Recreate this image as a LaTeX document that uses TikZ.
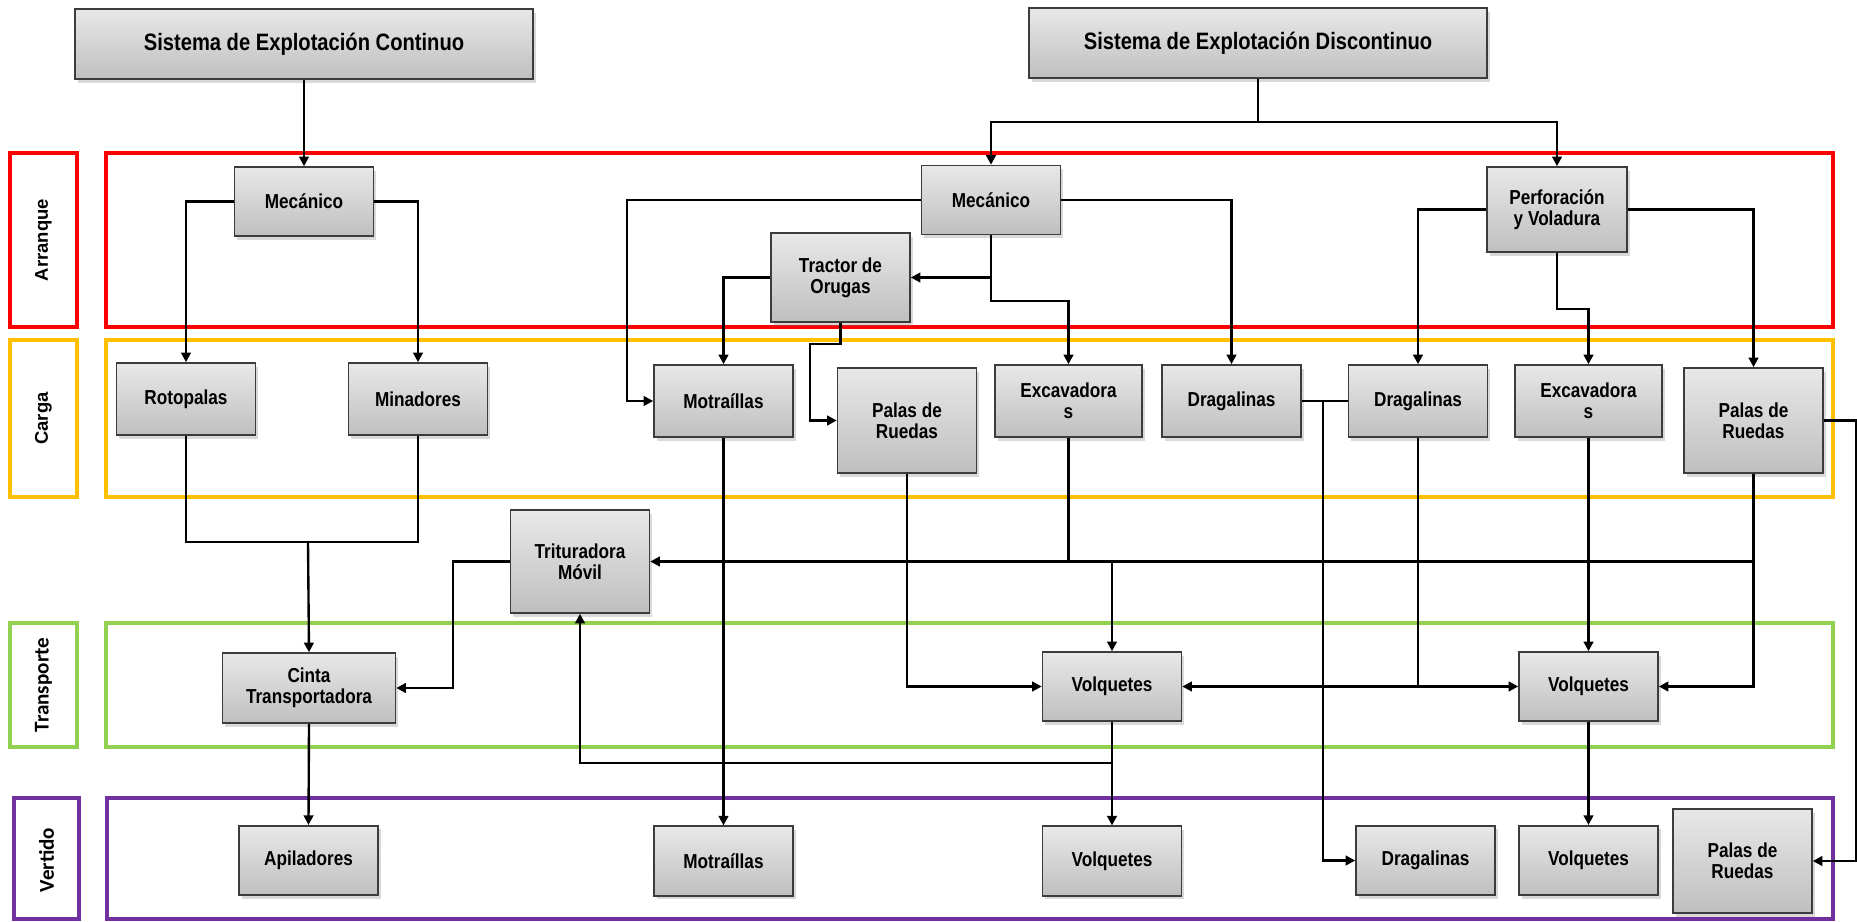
\documentclass[tikz,border=0pt]{standalone}
\usepackage{fontspec}
\usepackage{tikz}
\newfontfamily\boxfont{Liberation Sans}[FakeStretch=0.85]
\newfontfamily\carrilA{Liberation Sans}
\newfontfamily\carrilB{Carlito}
\definecolor{Arrq}{RGB}{255,0,0}
\definecolor{Crga}{RGB}{255,192,0}
\definecolor{Trsp}{RGB}{146,208,80}
\definecolor{Vrtd}{RGB}{112,48,160}
\definecolor{Brde}{RGB}{60,60,60}
\usetikzlibrary{shadows,arrows.meta,calc}
\tikzset{
  caja/.style={draw=Brde, line width=0.9pt, top color=gray!18, bottom color=gray!50,
               drop shadow={opacity=0.3, shadow xshift=1.5pt, shadow yshift=-2pt},
               align=center, inner sep=0pt, minimum width=2.78cm, minimum height=1.44cm,
               font=\boxfont\bfseries\fontsize{11.5}{11.8}\selectfont},
  titulo/.style={caja, minimum width=9.16cm, minimum height=1.4cm,
               font=\boxfont\bfseries\fontsize{13.5}{15}\selectfont},
  carril/.style={line width=2.2pt},
  flecha/.style={line width=1.35pt, -{Triangle[length=5.5pt,width=5.5pt]}},
  linea/.style={line width=1.35pt}
}

\begin{document}
\begin{tikzpicture}[x=0.02cm, y=-0.02cm]
    \useasboundingbox (0,0) rectangle (1857,922);
    \draw[carril, Arrq] (10,153) rectangle (77,327);
    \draw[carril, Arrq] (106,153) rectangle (1833,327);
    \draw[carril, Crga] (10,340) rectangle (77,497);
    \draw[carril, Crga] (106,340) rectangle (1833,497);
    \draw[carril, Trsp] (10,623) rectangle (77,747);
    \draw[carril, Trsp] (106,623) rectangle (1833,747);
    \draw[carril, Vrtd] (14,798) rectangle (79,919);
    \draw[carril, Vrtd] (107,798) rectangle (1833,919);
    \node[rotate=90, font=\carrilA\bfseries\fontsize{10.5}{12}\selectfont] (lArr) at (43.5,240) {Arranque};
    \node[rotate=90, font=\carrilA\bfseries\fontsize{10.5}{12}\selectfont] (lCrg) at (43.5,418.5) {Carga};
    \node[rotate=90, font=\carrilB\bfseries\fontsize{12}{13}\selectfont] (lTrs) at (43.5,685) {Transporte};
    \node[rotate=90, font=\carrilB\bfseries\fontsize{12}{13}\selectfont] (lVrt) at (46.5,860) {Vertido};

    \node[titulo] (cont) at (304,44) {Sistema de Explotación Continuo};
    \node[titulo] (disc) at (1258,43) {Sistema de Explotación Discontinuo};

    \node[caja, minimum height=1.38cm] (mec1) at (304,201.5) {Mecánico};
    \node[caja, minimum height=1.38cm] (mec2) at (991,200) {Mecánico};
    \node[caja, minimum height=1.78cm] (tractor) at (840.5,277.5) {Tractor de\\Orugas};
    \node[caja, minimum width=2.8cm, minimum height=1.7cm] (perf) at (1557,209.5) {Perforación\\y Voladura};

    \node[caja] (roto) at (186,399) {Rotopalas};
    \node[caja] (mina) at (418,399) {Minadores};
    \node[caja] (mot1) at (723.5,401) {Motraíllas};
    \node[caja, minimum height=2.1cm] (palas1) at (907,420.5) {Palas de\\Ruedas};
    \node[caja, minimum width=2.94cm] (exc1) at (1068.5,401) {Excavadora\\s};
    \node[caja] (drag1) at (1231.5,401) {Dragalinas};
    \node[caja] (drag2) at (1418,401) {Dragalinas};
    \node[caja, minimum width=2.94cm] (exc2) at (1588.5,401) {Excavadora\\s};
    \node[caja, minimum height=2.1cm] (palas2) at (1753.5,420.5) {Palas de\\Ruedas};

    \node[caja, minimum height=2.06cm] (trit) at (580,561.5) {Trituradora\\Móvil};

    \node[caja, minimum width=3.46cm, minimum height=1.4cm] (cinta) at (309,688) {Cinta\\Transportadora};
    \node[caja, minimum height=1.38cm] (volq1) at (1112,686.5) {Volquetes};
    \node[caja, minimum height=1.38cm] (volq2) at (1588.5,686.5) {Volquetes};

    \node[caja, minimum height=1.39cm] (apil) at (308.5,860.5) {Apiladores};
    \node[caja, minimum height=1.39cm] (mot2) at (723.5,861) {Motraíllas};
    \node[caja, minimum height=1.39cm] (volq3) at (1112,861) {Volquetes};
    \node[caja, minimum height=1.39cm] (drag3) at (1425.5,860.5) {Dragalinas};
    \node[caja, minimum height=1.39cm] (volq4) at (1588.5,860.5) {Volquetes};
    \node[caja, minimum height=2.08cm] (palas3) at (1742.5,861) {Palas de\\Ruedas};

    \coordinate (jCont) at (308,542);
    \coordinate (jDrag) at (1323,401);

    \draw[flecha] (cont.south) -- (mec1.north);
    \draw[flecha] (disc.south) -- ++(0,43) -| (mec2.north);
    \draw[flecha] (disc.south) -- ++(0,43) -| (perf.north);
    \draw[flecha] (mec1.west) -| (roto.north);
    \draw[flecha] (mec1.east) -| (mina.north);
    \draw[flecha] (mec2.west) -| ($(mot1.west)+(-26,0)$) -- (mot1.west);
    \draw[flecha] (mec2.east) -| (drag1.north);
    \draw[flecha] (mec2.south) |- (tractor.east);
    \draw[flecha] (mec2.south) -- ++(0,66) -| (exc1.north);
    \draw[flecha] (tractor.west) -| (mot1.north);
    \draw[flecha] (tractor.south) -- ++(0,21) -| ($(palas1.west)+(-27,0)$) -- (palas1.west);
    \draw[flecha] (perf.west) -| (drag2.north);
    \draw[flecha] (perf.east) -| (palas2.north);
    \draw[flecha] (perf.south) -- ++(0,56) -| (exc2.north);
    \draw[linea] (roto.south) |- (jCont) -| (mina.south);
    \draw[flecha] (jCont) -- (cinta.north);
    \draw[flecha] (trit.west) -| ($(cinta.east)+(57,0)$) -- (cinta.east);
    \draw[flecha] (cinta.south) -- (apil.north);
    \draw[flecha] (mot1.south) -- (mot2.north);
    \draw[flecha] (palas1.south) |- (volq1.west);
    \draw[flecha] (exc1.south) |- (volq1.north |- trit.east) -- (volq1.north);
    \draw[flecha] (palas2.south |- trit.east) -- (trit.east);
    \draw[flecha] (palas2.south) |- (volq2.east);
    \draw[linea] (drag1.east) -- (drag2.west);
    \draw[flecha] (jDrag) |- (drag3.west);
    \draw[flecha] (drag2.south) |- (volq1.east);
    \draw[flecha] (drag2.south) |- (volq2.west);
    \draw[flecha] (exc2.south) -- (volq2.north);
    \draw[flecha] (volq1.south) -- (volq3.north);
    \draw[flecha] (volq1.south) -- ++(0,41) -| (trit.south);
    \draw[flecha] (volq2.south) -- (volq4.north);
    \draw[flecha] (palas2.east) -| ($(palas3.east)+(43,0)$) -- (palas3.east);
\end{tikzpicture}
\end{document}
